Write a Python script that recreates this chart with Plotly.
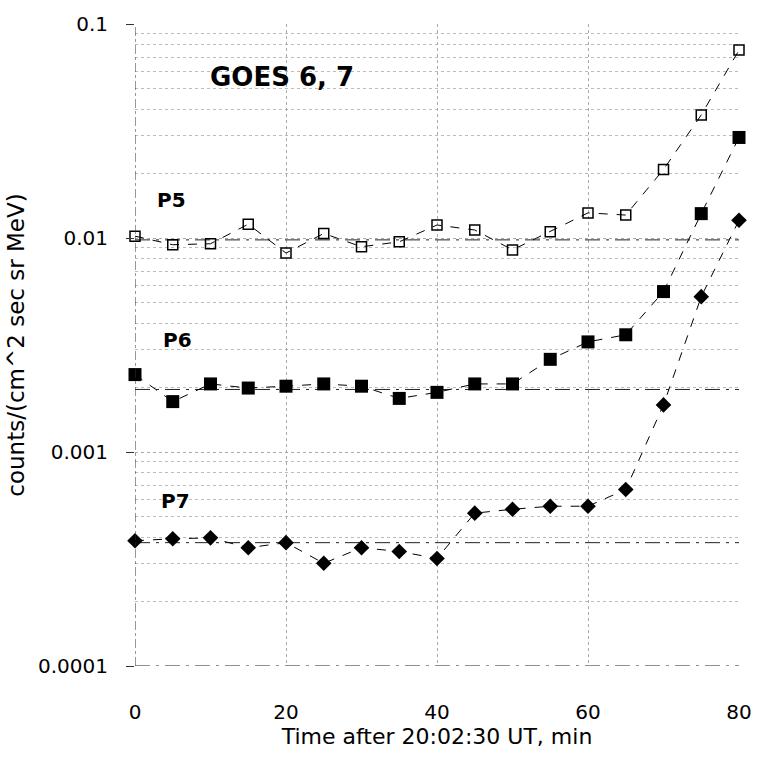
import numpy as np
import plotly.graph_objects as go

t = [0, 5, 10, 15, 20, 25, 30, 35, 40, 45, 50, 55, 60, 65, 70, 75, 80]
p5 = [0.0102, 0.0093, 0.0094, 0.0116, 0.0085, 0.0105, 0.0091, 0.0096, 0.0115,
      0.0109, 0.0088, 0.0107, 0.0131, 0.0128, 0.0209, 0.0376, 0.0755]
p6 = [0.0023, 0.00172, 0.00208, 0.00199, 0.00203, 0.00208, 0.00203, 0.00178, 0.0019,
      0.00208, 0.00208, 0.00271, 0.00327, 0.00353, 0.00562, 0.0130, 0.0295]
p7 = [0.000385, 0.000393, 0.000397, 0.000357, 0.000377, 0.000302, 0.000357, 0.000343,
      0.000318, 0.000518, 0.00054, 0.000558, 0.000558, 0.000668, 0.00166, 0.00532, 0.0121]
baselines = [0.0098, 0.00196, 0.000377, 0.0001]
series_labels = ["P5", "P6", "P7"]
label_t = [4.8, 5.6, 5.4]
label_y = [0.0151, 0.00333, 0.00059]
title_text = "GOES 6, 7"
title_pos = (19.5, 0.0568)
x_ticks = [0, 20, 40, 60, 80]
y_ticks = [0.0001, 0.001, 0.01, 0.1]
y_tick_text = ["0.0001", "0.001", "0.01", "0.1"]

FONT = "DejaVu Sans"
fig = go.Figure()

for b in baselines:
    fig.add_trace(go.Scatter(x=[0, 80], y=[b, b], mode="lines",
                             line=dict(color="#222", width=1, dash="longdashdot"),
                             showlegend=False, hoverinfo="skip"))

fig.add_trace(go.Scatter(x=t, y=p5, mode="lines+markers", cliponaxis=False,
                         line=dict(color="black", width=1, dash="dash"),
                         marker=dict(symbol="square-open", size=10, color="black",
                                     line=dict(width=1.5, color="black")),
                         showlegend=False))
fig.add_trace(go.Scatter(x=t, y=p6, mode="lines+markers", cliponaxis=False,
                         line=dict(color="black", width=1, dash="dash"),
                         marker=dict(symbol="square", size=13, color="black"),
                         showlegend=False))
fig.add_trace(go.Scatter(x=t, y=p7, mode="lines+markers", cliponaxis=False,
                         line=dict(color="black", width=1, dash="dash"),
                         marker=dict(symbol="diamond", size=12, color="black"),
                         showlegend=False))

for lab, lx, ly in zip(series_labels, label_t, label_y):
    fig.add_annotation(x=lx, y=np.log10(ly), xref="x", yref="y", text="<b>" + lab + "</b>",
                       showarrow=False, font=dict(family=FONT, size=20, color="black"))
fig.add_annotation(x=title_pos[0], y=np.log10(title_pos[1]), xref="x", yref="y",
                   text="<b>" + title_text + "</b>", showarrow=False,
                   font=dict(family=FONT, size=26, color="black"))

# dashed left axis
fig.add_shape(type="line", xref="x", yref="paper", x0=0, x1=0, y0=0, y1=1,
              line=dict(color="#333", width=1, dash="dashdot"))

fig.update_xaxes(range=[0, 80], tickvals=x_ticks, showline=False, zeroline=False,
                 showgrid=True, gridcolor="#aaa", griddash="dot", gridwidth=1,
                 ticks="", ticklabelstandoff=32,
                 tickfont=dict(family=FONT, size=20, color="black"),
                 title=dict(text="Time after 20:02:30 UT, min", standoff=5,
                            font=dict(family=FONT, size=22, color="black")))
fig.update_yaxes(type="log", range=[-4, -1], tickvals=y_ticks, ticktext=y_tick_text,
                 showline=False, zeroline=False,
                 showgrid=True, gridcolor="#aaa", griddash="dot", gridwidth=1,
                 ticks="outside", ticklen=8, tickcolor="#333", ticklabelstandoff=14,
                 minor=dict(dtick="D1", showgrid=True, gridcolor="#bbb", griddash="dot",
                            gridwidth=1, ticks=""),
                 tickfont=dict(family=FONT, size=20, color="black"),
                 title=dict(text="counts/(cm^2 sec sr MeV)", standoff=6,
                            font=dict(family=FONT, size=23, color="black")))

fig.update_layout(width=764, height=762, paper_bgcolor="white", plot_bgcolor="white",
                  margin=dict(l=135, r=13, t=20, b=96), showlegend=False)

fig.write_html("out.html")
